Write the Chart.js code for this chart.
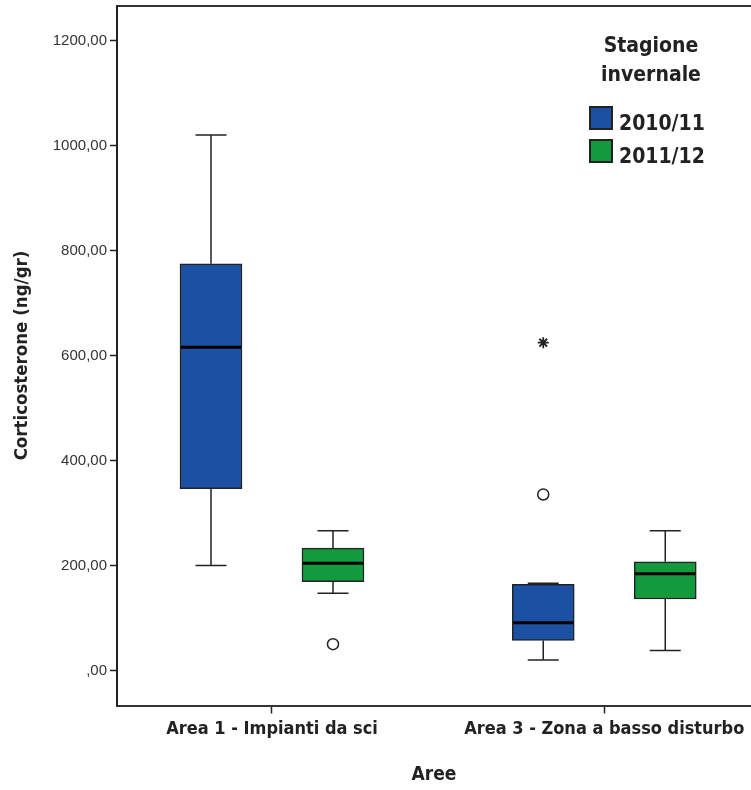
<!DOCTYPE html>
<html>
<head>
<meta charset="utf-8">
<script src="https://cdn.jsdelivr.net/npm/chart.js@4.4.1/dist/chart.umd.min.js"></script>
<style>
  html, body { margin: 0; padding: 0; background: #fff; }
  #wrap { position: relative; width: 751px; height: 790px; overflow: hidden; }
  #legend {
    position: absolute; left: 589px; top: 31px; width: 124px;
    font-family: 'DejaVu Sans Condensed', 'DejaVu Sans', sans-serif;
    font-weight: bold; font-size: 21px; color: #222;
  }
  #legend .titolo { text-align: center; line-height: 29px; }
  #legend .voce { position: absolute; left: 0; height: 24px; width: 124px; }
  #legend .quad { position: absolute; left: 0; top: 0; width: 24px; height: 24px; box-sizing: border-box; border: 2px solid #222; }
  #legend .testo { position: absolute; left: 30px; top: 5px; line-height: 24px; white-space: nowrap; }
</style>
</head>
<body>
<div id="wrap">
  <canvas id="grafico" width="751" height="790"></canvas>
  <div id="legend"></div>
</div>
<script>
// categorie e serie
const aree = ['Area 1 - Impianti da sci', 'Area 3 - Zona a basso disturbo'];
const stagioni = ['2010/11', '2011/12'];
const colori = ['#1c50a2', '#129a3c'];

// 2010/11: baffo basso, Q1, mediana, Q3, baffo alto (per area)
const min1011 = [201, 21];
const q1_1011 = [347, 58];
const med1011 = [616, 92];
const q3_1011 = [775, 165];
const max1011 = [1020, 167];
const outl1011 = [[], [336]];   // valori anomali (cerchio)
const estr1011 = [[], [625]];   // valori estremi (asterisco)

// 2011/12
const min1112 = [148, 39];
const q1_1112 = [170, 137];
const med1112 = [205, 185];
const q3_1112 = [234, 208];
const max1112 = [267, 267];
const outl1112 = [[51], []];
const estr1112 = [[], []];

// asse y
const yTicks = [0, 200, 400, 600, 800, 1000, 1200];
const yTickLabels = [',00', '200,00', '400,00', '600,00', '800,00', '1000,00', '1200,00'];

const serie = [
    { min: min1011, q1: q1_1011, med: med1011, q3: q3_1011, max: max1011, outl: outl1011, estr: estr1011 },
    { min: min1112, q1: q1_1112, med: med1112, q3: q3_1112, max: max1112, outl: outl1112, estr: estr1112 }
];

// posizione dei box dentro il gruppo
const scarto = [-0.1836, 0.1836];
const fontBold = "'DejaVu Sans Condensed', 'DejaVu Sans', sans-serif";

const datasets = [];
serie.forEach((s, k) => {
    datasets.push({
        type: 'bar',
        label: stagioni[k],
        data: aree.map((a, i) => ({ x: i + scarto[k], y: [s.q1[i], s.q3[i]] })),
        backgroundColor: colori[k],
        borderColor: '#222',
        borderWidth: 1.5,
        borderSkipped: false,
        grouped: false,
        categoryPercentage: 1,
        barPercentage: 1,
        maxBarThickness: 62
    });
});
serie.forEach((s, k) => {
    const cerchi = [], stelle = [];
    aree.forEach((a, i) => {
        s.outl[i].forEach(v => cerchi.push({ x: i + scarto[k], y: v }));
        s.estr[i].forEach(v => stelle.push({ x: i + scarto[k], y: v }));
    });
    datasets.push({
        type: 'scatter', data: cerchi, pointStyle: 'circle', radius: 5.5,
        borderColor: '#222', borderWidth: 1.5, backgroundColor: 'rgba(255,255,255,0)'
    });
    datasets.push({
        type: 'scatter', data: stelle, pointStyle: 'star', radius: 5.5,
        borderColor: '#222', borderWidth: 1.8
    });
});

// baffi e mediane
const baffi = {
    id: 'baffi',
    beforeDatasetsDraw(chart) {
        const { ctx, scales: { x, y } } = chart;
        ctx.save();
        ctx.strokeStyle = '#222';
        ctx.lineWidth = 1.5;
        serie.forEach((s, k) => {
            aree.forEach((a, i) => {
                const px = x.getPixelForValue(i + scarto[k]);
                ctx.beginPath();
                ctx.moveTo(px, y.getPixelForValue(s.q3[i]));
                ctx.lineTo(px, y.getPixelForValue(s.max[i]));
                ctx.moveTo(px, y.getPixelForValue(s.q1[i]));
                ctx.lineTo(px, y.getPixelForValue(s.min[i]));
                ctx.moveTo(px - 15.5, y.getPixelForValue(s.max[i]));
                ctx.lineTo(px + 15.5, y.getPixelForValue(s.max[i]));
                ctx.moveTo(px - 15.5, y.getPixelForValue(s.min[i]));
                ctx.lineTo(px + 15.5, y.getPixelForValue(s.min[i]));
                ctx.stroke();
            });
        });
        ctx.restore();
    },
    afterDatasetsDraw(chart) {
        const { ctx, scales: { x, y } } = chart;
        ctx.save();
        ctx.strokeStyle = '#000';
        ctx.lineWidth = 3;
        serie.forEach((s, k) => {
            aree.forEach((a, i) => {
                const px = x.getPixelForValue(i + scarto[k]);
                const py = y.getPixelForValue(s.med[i]);
                ctx.beginPath();
                ctx.moveTo(px - 30, py);
                ctx.lineTo(px + 30, py);
                ctx.stroke();
            });
        });
        ctx.restore();
    }
};

const ctx = document.getElementById('grafico').getContext('2d');
new Chart(ctx, {
    type: 'bar',
    data: { datasets },
    options: {
        responsive: false,
        animation: false,
        layout: { padding: 0, autoPadding: false },
        plugins: { legend: { display: false }, tooltip: { enabled: false } },
        scales: {
            x: {
                type: 'linear', position: 'bottom', offset: false,
                min: -0.4665, max: 1.4417,
                afterBuildTicks: sc => { sc.ticks = aree.map((a, i) => ({ value: i })); },
                afterFit: sc => { sc.height = 84.5; sc.paddingLeft = 0; sc.paddingRight = 0; },
                ticks: {
                    callback: (v, i) => aree[i],
                    autoSkip: false, maxRotation: 0, padding: 5,
                    color: '#222',
                    font: { family: fontBold, weight: 'bold', size: 18 }
                },
                grid: { offset: false, drawOnChartArea: false, drawTicks: true, tickLength: 8, tickColor: '#222', tickWidth: 1.5 },
                border: { display: true, color: '#333', width: 2 },
                title: {
                    display: true, text: 'Aree', color: '#222', padding: { top: 0, bottom: 4 },
                    font: { family: fontBold, weight: 'bold', size: 19 }
                }
            },
            xTop: {
                type: 'linear', position: 'top', offset: false,
                afterFit: sc => { sc.height = 5.5; sc.paddingLeft = 0; sc.paddingRight = 0; },
                ticks: { display: false },
                grid: { display: false },
                border: { display: true, color: '#333', width: 2 }
            },
            y: {
                min: -65.7, max: 1266.7,
                afterBuildTicks: sc => { sc.ticks = yTicks.map(v => ({ value: v })); },
                afterFit: sc => { sc.width = 117; sc.paddingTop = 0; sc.paddingBottom = 0; },
                ticks: {
                    callback: (v, i) => yTickLabels[i],
                    padding: 3, color: '#333',
                    font: { family: "'Liberation Sans', Arial, sans-serif", size: 15 }
                },
                grid: { drawOnChartArea: false, drawTicks: true, tickLength: 7, tickColor: '#222', tickWidth: 1.5 },
                border: { display: true, color: '#222', width: 2 },
                title: {
                    display: true, text: 'Corticosterone (ng/gr)', color: '#222', padding: { top: 11 },
                    font: { family: fontBold, weight: 'bold', size: 18.5 }
                }
            }
        }
    },
    plugins: [baffi]
});

// legenda html
const legenda = document.getElementById('legend');
legenda.innerHTML = '<div class="titolo">Stagione<br>invernale</div>';
stagioni.forEach((st, k) => {
    const voce = document.createElement('div');
    voce.className = 'voce';
    voce.style.top = (75 + 33 * k) + 'px';
    voce.innerHTML = '<div class="quad" style="background:' + colori[k] + '"></div><span class="testo">' + st + '</span>';
    legenda.appendChild(voce);
});
</script>
</body>
</html>
